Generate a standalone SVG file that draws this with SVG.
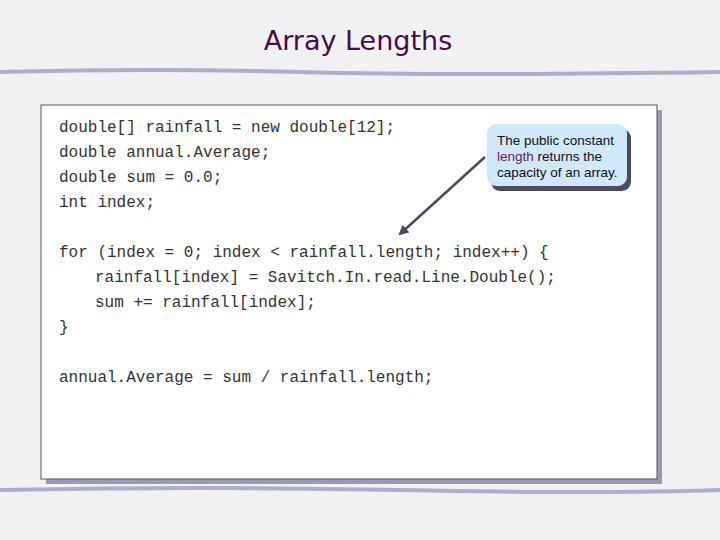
<svg xmlns="http://www.w3.org/2000/svg" width="720" height="540" viewBox="0 0 720 540">
<defs>
<style>
.code{font-family:"Liberation Mono","Courier New",monospace;font-size:16px;fill:#333}
.note{font-family:"Liberation Sans",Arial,sans-serif;font-size:13.5px;fill:#111}
</style>
<marker id="ah" viewBox="0 0 10 10" refX="8" refY="5" markerWidth="4" markerHeight="4" orient="auto"><path d="M0,0L10,5L0,10z" fill="#4a4a5e"/></marker>
</defs>
<rect width="720" height="540" fill="#f1f1f3"/>
<text x="358" y="50" text-anchor="middle" font-family="Verdana,'DejaVu Sans',sans-serif" font-size="27" fill="#4a0a4a">Array Lengths</text>
<path d="M0,72 Q150,68 300,72 T720,72" stroke="#aab0cc" stroke-width="4" fill="none"/>
<path d="M0,490 Q200,486 400,490 T720,490" stroke="#aab0cc" stroke-width="4" fill="none"/>
<g id="codebox">
<rect x="46" y="110" width="616" height="374" fill="#9a9ab8"/>
<rect x="41" y="105" width="616" height="374" fill="#fff" stroke="#555" stroke-width="1"/>
<text class="code" x="59" y="132">double[] rainfall = new double[12];</text>
<text class="code" x="59" y="157">double annual.Average;</text>
<text class="code" x="59" y="182">double sum = 0.0;</text>
<text class="code" x="59" y="207">int index;</text>
<text class="code" x="59" y="257">for (index = 0; index &lt; rainfall.length; index++) {</text>
<text class="code" x="95" y="282">rainfall[index] = Savitch.In.read.Line.Double();</text>
<text class="code" x="95" y="307">sum += rainfall[index];</text>
<text class="code" x="59" y="332">}</text>
<text class="code" x="59" y="382">annual.Average = sum / rainfall.length;</text>
</g>
<g id="note">
<rect x="491" y="129" width="140" height="62" rx="9" fill="#4a4a66"/>
<rect x="487" y="124" width="140" height="62" rx="9" fill="#cfe8fa"/>
<text class="note" x="497" y="145">The public constant</text>
<text class="note" x="497" y="161"><tspan fill="#6a1a6a">length</tspan> returns the</text>
<text class="note" x="497" y="177">capacity of an array.</text>
</g>
<g id="connectors">
<line x1="485" y1="157" x2="400" y2="234" stroke="#4a4a5e" stroke-width="2.5" marker-end="url(#ah)"/>
</g>
</svg>
